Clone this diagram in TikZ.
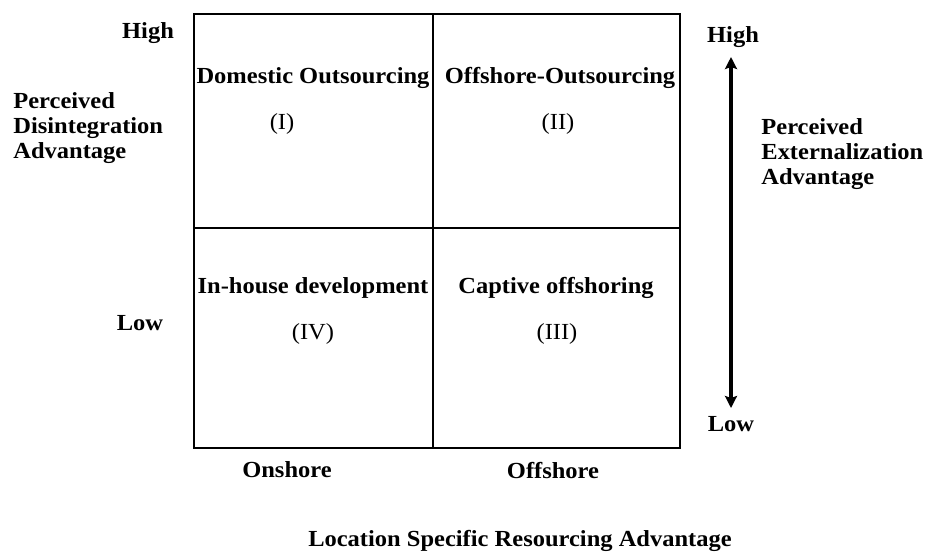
\documentclass[tikz,border=0pt]{standalone}
\usepackage{fontspec}
\setmainfont[FakeStretch=1.065]{Liberation Serif}
\usepackage{tikz}
\usetikzlibrary{arrows.meta}

\tikzset{
    lbl/.style={font=\fontsize{11.5}{12.5}\selectfont\bfseries, inner sep=0pt},
    num/.style={font=\fontsize{11.5}{12.5}\selectfont, inner sep=0pt},
    axislbl/.style={lbl, align=left, anchor=west},
    frame/.style={line width=1pt},
    divider/.style={line width=0.8pt},
    extarrow/.style={line width=2pt, {Stealth[length=6pt,width=6pt,inset=1pt]}-{Stealth[length=6pt,width=6pt,inset=1pt]}}
}

\begin{document}
\begin{tikzpicture}[x=0.5pt,y=-0.5pt]
        \useasboundingbox (0,0) rectangle (925,554);
        \draw[frame] (194,14) rectangle (680,448);
        \draw[divider] (433,14) -- (433,448);
        \draw[divider] (194,228) -- (680,228);

        \node[lbl] (dom) at (313,78) {Domestic Outsourcing};
        \node[num] (qI) at (282,124) {(I)};
        \node[lbl] (off) at (560,78) {Offshore-Outsourcing};
        \node[num] (qII) at (558,124) {(II)};
        \node[lbl] (inh) at (313,288) {In-house development};
        \node[num] (qIV) at (313,334) {(IV)};
        \node[lbl] (cap) at (556,288) {Captive offshoring};
        \node[num] (qIII) at (557,334) {(III)};

        \node[lbl] (hiL) at (148,33) {High};
        \node[lbl] (loL) at (140,323) {Low};
        \node[axislbl] (disint) at (13,128) {Perceived\\Disintegration\\Advantage};

        \node[lbl] (onsh) at (287,470) {Onshore};
        \node[lbl] (offsh) at (553,470) {Offshore};
        \node[lbl] (loc) at (520,541) {Location Specific Resourcing Advantage};

        \node[lbl] (hiR) at (733,37) {High};
        \node[lbl] (loR) at (731,424) {Low};
        \node[axislbl] (extern) at (761,154) {Perceived\\Externalization\\Advantage};
        \coordinate (arrTop) at (731,57);
        \coordinate (arrBot) at (731,408);
        \draw[extarrow] (arrTop) -- (arrBot);
    \end{tikzpicture}
\end{document}
